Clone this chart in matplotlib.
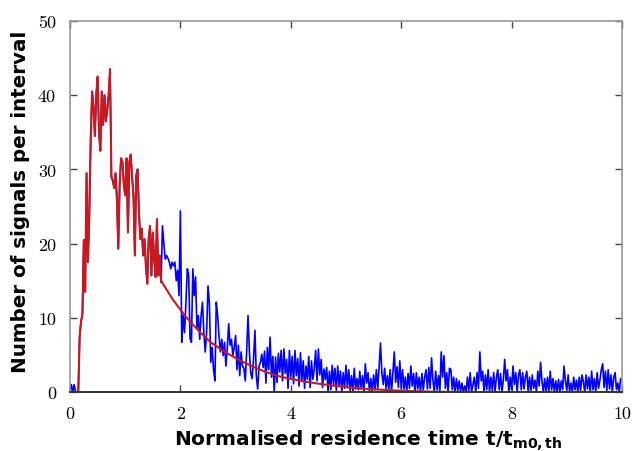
import matplotlib
matplotlib.use("Agg")
import matplotlib.pyplot as plt

plt.rcParams['mathtext.fontset'] = 'dejavusans'

# bin width 0.025 -> x = 0 .. 10
bin_width = 0.025
blue_counts = [
    # x 0.0 - 3.475
    0, 1, 0, 1, 0, 0, 0, 7.5, 9.5, 10.5,
    20.5, 13.5, 29.5, 17.5, 24, 34, 40.5, 38.5, 34.5, 40,
    42.5, 35, 32.5, 40.5, 36, 40, 36.5, 38, 40, 43.5,
    29, 28.5, 27.5, 29.5, 26, 19.3, 28, 31.5, 31, 28,
    26.5, 31.5, 21.5, 31, 32, 29, 26.5, 18.4, 29.2, 30,
    24, 20.6, 22, 18.4, 20.6, 17, 14.6, 20.6, 22.4, 15.7,
    21.5, 18, 15.5, 23.3, 15.7, 18.4, 14.8, 22.4, 20, 17.9,
    18.4, 18, 17.5, 16.6, 17.5, 17, 17.5, 15, 16.4, 13,
    24.4, 6.7, 10.3, 8, 12, 16.6, 15.8, 7.2, 6.7, 16.6,
    13, 15.5, 8.5, 10.3, 7.1, 10.3, 12.1, 8, 5.4, 8,
    14.3, 12, 4, 6, 3, 1.5, 12.1, 10.3, 7.5, 5.4,
    7.1, 4.9, 6.7, 3.5, 6, 9.2, 6.3, 7.1, 4.9, 6,
    7.6, 3, 6.3, 2.2, 5.4, 3.5, 3.2, 1.5, 5.4, 10.3,
    5.4, 2.5, 1.8, 4.5, 8.3, 2.2, 0.4, 3.5, 4, 5.1,
    # x 3.5 - 4.675
    3.3, 5.5, 1.2, 6, 3, 7.4, 2, 4.8, 0, 4.7,
    1.3, 5.2, 2.7, 5.6, 1.5, 5.8, 2.5, 4.4, 0.5, 5.6,
    2, 4.8, 1.1, 5.6, 2.2, 4.5, 0.8, 5.3, 1.5, 4.2,
    0.5, 3.5, 1.7, 4.8, 0.6, 4.2, 1.7, 3.1, 5.6, 1.5,
    5.8, 2.3, 4.4, 0.6, 3.1, 1.7, 3.3, 0,
    # x 4.7 - 6.875
    2.8, 0.3, 3.6, 1, 3.2, 0.2, 3.5, 0.8, 2.8, 0,
    2.6, 0.5, 3.6, 0.6, 3, 0.2, 2.2, 0, 3.2, 0.4,
    1.8, 0.3, 2.8, 0.4, 2.2, 0, 3.8, 1.2, 2.6, 0,
    1.8, 0, 2.3, 0.3, 3, 0.5, 3.4, 6.6, 2.5, 1,
    3.2, 0.5, 2.2, 0.2, 3, 0, 2.8, 5.4, 1.3, 3.4,
    0.6, 4.2, 0.5, 3, 0.4, 2, 0, 2.5, 0.5, 3.5,
    0.8, 2.5, 0, 2.6, 0.4, 2, 0, 2.5, 0.3, 2,
    3, 0.4, 3.3, 0.5, 4.6, 1.5, 0, 2.8, 0.3, 2.2,
    0, 5.4, 2, 4.9, 0.5, 2.6, 0, 3.2,
    # x 6.9 - 10.0
    3, 0.3, 2, 0, 1.8, 0.2, 1.5, 0, 1.2, 0,
    0.8, 0, 2, 0.2, 2.6, 0, 1, 2, 0, 2.6,
    0.5, 5.4, 1.5, 2.8, 0, 2.3, 0.3, 3, 0, 2,
    0.2, 2.6, 0, 2, 3, 0.3, 2.5, 0, 1.6, 4.4,
    1.5, 3, 0, 2, 0.3, 3.5, 1, 2.6, 0, 2.3,
    3, 0.3, 2.6, 0.4, 2, 2.8, 0, 2, 0.2, 2.3,
    0.5, 1.6, 0, 2.8, 0.8, 4, 1.5, 0, 1.8, 0,
    2, 0, 2.8, 0.3, 1.8, 0, 1.5, 0, 1.7, 0,
    1.5, 0.3, 3.5, 1.5, 0.2, 2.3, 0, 1.2, 0, 2,
    0.3, 1.6, 0, 2, 0.2, 2.3, 1.4, 0, 2.3, 0.4,
    2, 0, 2.8, 0.3, 1.8, 0, 2.6, 0.5, 1.6, 3,
    3.8, 0.6, 2.8, 0.2, 3, 0.4, 2.3, 0, 2, 2.6,
    0.3, 1.2, 0, 1.8, 1.6,
]
blue_x = [i * bin_width for i in range(len(blue_counts))]

# red: measured part (same data as blue between these indices), then fitted tail
red_start_index = 6
red_end_index = 66
red_tail_x = [1.65, 1.75, 1.85, 1.95, 2.05, 2.15, 2.25, 2.35, 2.45, 2.55,
              2.65, 2.75, 2.85, 2.95, 3.05, 3.15, 3.25, 3.35, 3.45, 3.55,
              3.65, 3.75, 3.85, 3.95, 4.05, 4.15, 4.25, 4.35, 4.45, 4.55,
              4.65, 4.75, 4.85, 4.95, 5.05, 5.15, 5.25, 5.35, 5.45, 5.55,
              5.65, 5.75, 5.85, 5.95, 6.05, 6.15, 6.25, 6.35, 6.45, 6.55,
              6.65, 6.75, 6.85, 6.95]
red_tail_y = [15.0, 13.8, 12.6, 11.6, 10.6, 9.7, 8.9, 8.1, 7.4, 6.7,
              6.2, 5.7, 5.2, 4.8, 4.35, 4.0, 3.65, 3.3, 3.0, 2.7,
              2.45, 2.2, 2.0, 1.85, 1.7, 1.55, 1.4, 1.3, 1.18, 1.07,
              0.97, 0.87, 0.78, 0.7, 0.62, 0.55, 0.49, 0.44, 0.39, 0.34,
              0.3, 0.26, 0.22, 0.19, 0.16, 0.13, 0.11, 0.09, 0.07, 0.05,
              0.04, 0.03, 0.02, 0.01]

x_ticks = [0, 2, 4, 6, 8, 10]
y_ticks = [0, 10, 20, 30, 40, 50]

red_x = blue_x[red_start_index:red_end_index + 1] + red_tail_x
red_y = blue_counts[red_start_index:red_end_index + 1] + red_tail_y

fig = plt.figure(figsize=(6.33, 4.52), dpi=100)
ax = fig.add_axes([70 / 633, 59 / 452, 552 / 633, 371 / 452])

ax.plot(blue_x, blue_counts, color='#0000ff', lw=1.2)
ax.plot(red_x, red_y, color='#cc1818', lw=1.5)

ax.set_xlim(0, 10)
ax.set_ylim(0, 50)
ax.set_xticks(x_ticks)
ax.set_yticks(y_ticks)
ax.set_xticklabels([str(v) for v in x_ticks], fontfamily='cmr10', fontsize=13)
ax.set_yticklabels([str(v) for v in y_ticks], fontfamily='cmr10', fontsize=13)
ax.tick_params(direction='in', length=5, width=1, color='#444444',
               top=True, right=True)
ax.tick_params(axis='y', pad=10)
ax.tick_params(axis='x', pad=10)

for side in ['left', 'top', 'right']:
    ax.spines[side].set_color('#999999')
    ax.spines[side].set_linewidth(1.2)
ax.spines['bottom'].set_color('#333333')
ax.spines['bottom'].set_linewidth(1.4)

ax.set_xlabel(r'Normalised residence time t/t$_{\mathbf{m0,th}}$',
              fontweight='bold', fontsize=14.5)
ax.set_ylabel('Number of signals per interval', fontweight='bold',
              fontsize=14.3)
ax.xaxis.set_label_coords(0.54, -0.097, transform=ax.transAxes)
ax.xaxis.label.set_verticalalignment('top')
ax.yaxis.set_label_coords(-0.073, 0.515, transform=ax.transAxes)

fig.savefig('out.png', dpi=100)
